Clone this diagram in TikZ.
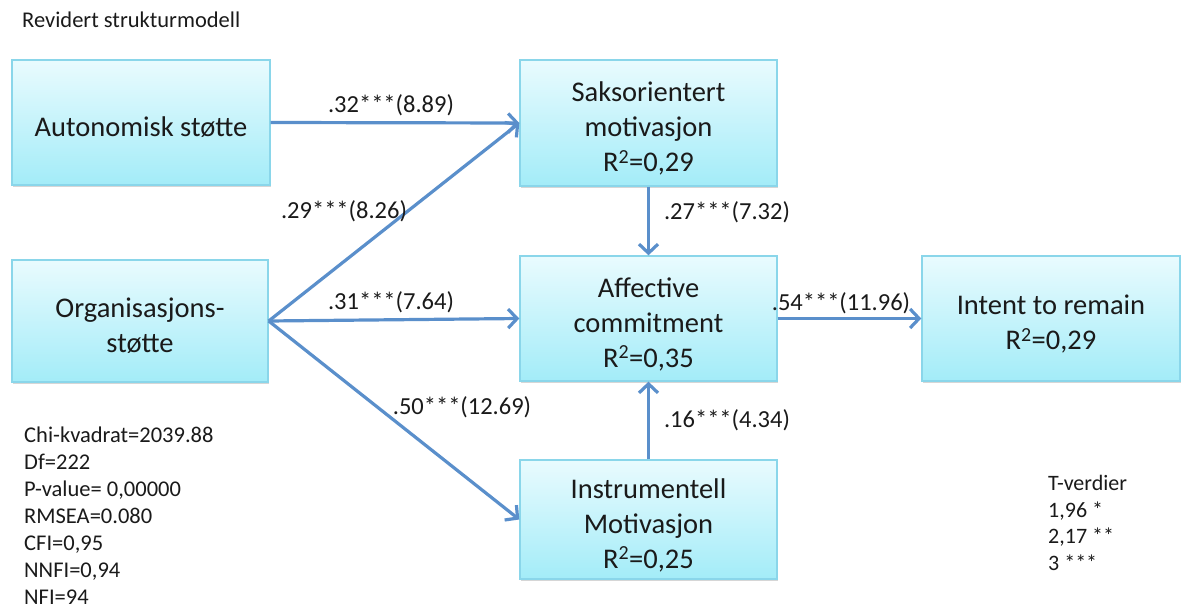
\documentclass[tikz,border=0pt]{standalone}
\usepackage{fontspec}
\setmainfont{Carlito}
\usetikzlibrary{arrows.meta,shadows}
\definecolor{boxline}{HTML}{8AD6EA}
\definecolor{boxtop}{HTML}{E9FBFE}
\definecolor{boxbottom}{HTML}{A3ECF8}
\definecolor{pathblue}{HTML}{5A8FCB}
\definecolor{ink}{HTML}{1A1A1A}
% box label set a little below the box centre, keeping its natural size
\newcommand\boxlabel[1]{\raisebox{-7bp}[\height][\depth]{\begin{tabular}{@{}c@{}}#1\end{tabular}}}
\tikzset{
  construct/.style={draw=boxline, line width=1.4bp, top color=boxtop, bottom color=boxbottom,
    minimum width=257bp, minimum height=125bp, text=ink, inner sep=0pt,
    font=\fontsize{28.5bp}{35bp}\selectfont,
    drop shadow={shadow xshift=1.2bp, shadow yshift=-1.8bp, opacity=0.16, fill=black}},
  path/.style={draw=pathblue, line width=3.2bp, -{Straight Barb[length=9bp,width=19bp]}},
  coef/.style={text=ink, inner sep=0pt, font=\fontsize{24.5bp}{29bp}\selectfont},
  note/.style={text=ink, inner sep=0pt, align=left, anchor=north west}
}
\begin{document}
\begin{tikzpicture}[x=1bp,y=-1bp]
\useasboundingbox (0,0) rectangle (1186,610);

% title
\node[note, anchor=west, font=\fontsize{22.5bp}{27bp}\selectfont] (title) at (22,20) {Revidert strukturmodell};

% latent constructs
\node[construct, minimum width=258bp] (aut) at (141,122.5) {\boxlabel{Autonomisk støtte}};
\node[construct, minimum width=256bp, minimum height=122bp] (org) at (140,321) {\boxlabel{Organisasjons-\\støtte}};
\node[construct, minimum height=126bp] (sak) at (648.5,123) {\boxlabel{Saksorientert\\motivasjon\\R\textsuperscript{2}=0,29}};
\node[construct] (aff) at (648.5,318.5) {\boxlabel{Affective\\commitment\\R\textsuperscript{2}=0,35}};
\node[construct, minimum height=119bp] (ins) at (648.5,519.5) {\boxlabel{Instrumentell\\Motivasjon\\R\textsuperscript{2}=0,25}};
\node[construct, minimum width=258bp] (int) at (1051,318.5) {\boxlabel{Intent to remain\\R\textsuperscript{2}=0,29}};

% structural paths
\draw[path] (aut.east) -- (sak.west);
\draw[path] (org.east) -- (sak.west);
\draw[path] (org.east) -- (aff.west);
\draw[path] (org.east) -- (ins.west);
\draw[path] (sak.south) -- (aff.north);
\draw[path] (ins.north) -- (aff.south);
\draw[path] (aff.east) -- (int.west);

% path coefficients (t-values)
\node[coef] (c1) at (391,105) {.32***(8.89)};
\node[coef] (c2) at (344,211) {.29***(8.26)};
\node[coef] (c3) at (391,302) {.31***(7.64)};
\node[coef] (c4) at (462,407) {.50***(12.69)};
\node[coef] (c5) at (727,212) {.27***(7.32)};
\node[coef] (c6) at (727,420) {.16***(4.34)};
\node[coef] (c7) at (841,303) {.54***(11.96)};

% fit indices
\node[note, font=\fontsize{22.5bp}{26.9bp}\selectfont] (fit) at (24,427)
  {Chi-kvadrat=2039.88\\Df=222\\P-value= 0,00000\\RMSEA=0.080\\CFI=0,95\\NNFI=0,94\\NFI=94};

% significance thresholds
\node[note, font=\fontsize{22bp}{26.7bp}\selectfont] (tval) at (1048,475)
  {T-verdier\\1,96 *\\2,17 **\\3 ***};
\end{tikzpicture}
\end{document}
